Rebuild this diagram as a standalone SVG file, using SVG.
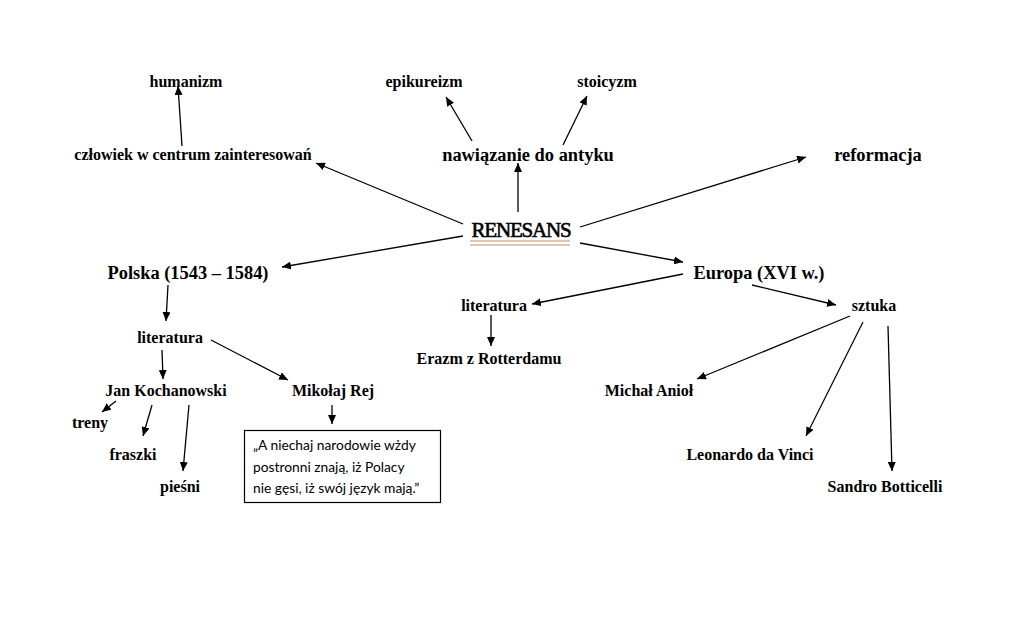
<svg xmlns="http://www.w3.org/2000/svg" width="1024" height="622" viewBox="0 0 1024 622">
<style>
.t{font-family:"Liberation Serif","Times New Roman",serif;font-weight:bold;fill:#000}
.s{font-size:16px}
.m{font-size:18.4px}
.q{font-family:Lato,"Open Sans",sans-serif;font-size:13.8px;fill:#000}
.c line{stroke:#000;stroke-width:1.3;marker-end:url(#a)}
</style>
<defs>
<marker id="a" markerUnits="userSpaceOnUse" markerWidth="10" markerHeight="8" refX="9" refY="4" orient="auto">
<path d="M0,0 L9,4 L0,8 Z" fill="#000"/>
</marker>
</defs>
<rect width="1024" height="622" fill="#fff"/>
<g class="c">
<line x1="182" y1="146" x2="178" y2="86"/>
<line x1="472" y1="141" x2="446" y2="97"/>
<line x1="563" y1="145" x2="587" y2="96"/>
<line x1="518" y1="212" x2="518" y2="163"/>
<line x1="463" y1="224" x2="316" y2="163"/>
<line x1="580" y1="227" x2="806" y2="157"/>
<line x1="463" y1="236" x2="282" y2="267"/>
<line x1="580" y1="243" x2="683" y2="262"/>
<line x1="683" y1="274" x2="532" y2="304"/>
<line x1="752" y1="285" x2="836" y2="305"/>
<line x1="491" y1="315" x2="491" y2="346"/>
<line x1="850" y1="316" x2="697" y2="379"/>
<line x1="863" y1="322" x2="806" y2="436"/>
<line x1="888" y1="326" x2="892" y2="471"/>
<line x1="168" y1="285" x2="166" y2="321"/>
<line x1="162" y1="350" x2="163" y2="379"/>
<line x1="211" y1="340" x2="288" y2="380"/>
<line x1="332" y1="405" x2="332" y2="424"/>
<line x1="116" y1="401" x2="102" y2="412"/>
<line x1="152" y1="405" x2="143" y2="436"/>
<line x1="189" y1="405" x2="183" y2="471"/>
</g>
<g id="renesans">
<text x="521" y="237" text-anchor="middle" font-size="21" letter-spacing="-1.2" font-family="'Liberation Serif',serif" fill="#000" stroke="#000" stroke-width="0.6">RENESANS</text>
<line x1="470" y1="241" x2="570" y2="241" stroke="#d4b49a" stroke-width="1.5"/>
<line x1="470" y1="245" x2="570" y2="245" stroke="#d4b49a" stroke-width="1.5"/>
</g>
<g id="humanizm"><text class="t s" x="186" y="87" text-anchor="middle">humanizm</text></g>
<g id="czlowiek"><text class="t s" x="193" y="160" text-anchor="middle">człowiek w centrum zainteresowań</text></g>
<g id="epikureizm"><text class="t s" x="424" y="87" text-anchor="middle">epikureizm</text></g>
<g id="stoicyzm"><text class="t s" x="607" y="87" text-anchor="middle">stoicyzm</text></g>
<g id="nawiazanie"><text class="t m" x="528" y="161" text-anchor="middle">nawiązanie do antyku</text></g>
<g id="reformacja"><text class="t m" x="878" y="161" text-anchor="middle">reformacja</text></g>
<g id="polska"><text class="t m" x="188" y="279" text-anchor="middle">Polska (1543 – 1584)</text></g>
<g id="europa"><text class="t m" x="759" y="279" text-anchor="middle">Europa (XVI w.)</text></g>
<g id="literatura-pl"><text class="t s" x="170" y="343" text-anchor="middle">literatura</text></g>
<g id="literatura-eu"><text class="t s" x="494" y="311" text-anchor="middle">literatura</text></g>
<g id="sztuka"><text class="t s" x="874" y="311" text-anchor="middle">sztuka</text></g>
<g id="erazm"><text class="t s" x="489" y="364" text-anchor="middle">Erazm z Rotterdamu</text></g>
<g id="kochanowski"><text class="t s" x="166" y="396" text-anchor="middle">Jan Kochanowski</text></g>
<g id="rej"><text class="t s" x="333" y="396" text-anchor="middle">Mikołaj Rej</text></g>
<g id="aniol"><text class="t s" x="649" y="396" text-anchor="middle">Michał Anioł</text></g>
<g id="treny"><text class="t s" x="90" y="428" text-anchor="middle">treny</text></g>
<g id="fraszki"><text class="t s" x="133" y="460" text-anchor="middle">fraszki</text></g>
<g id="leonardo"><text class="t s" x="750" y="460" text-anchor="middle">Leonardo da Vinci</text></g>
<g id="piesni"><text class="t s" x="180" y="492" text-anchor="middle">pieśni</text></g>
<g id="botticelli"><text class="t s" x="885" y="492" text-anchor="middle">Sandro Botticelli</text></g>
<g id="cytat">
<rect x="244.5" y="430.5" width="196" height="72" fill="#fff" stroke="#000" stroke-width="1.2"/>
<text class="q" x="253" y="450">„A niechaj narodowie wżdy</text>
<text class="q" x="253" y="472">postronni znają, iż Polacy</text>
<text class="q" x="253" y="493">nie gęsi, iż swój język mają.”</text>
</g>
</svg>
